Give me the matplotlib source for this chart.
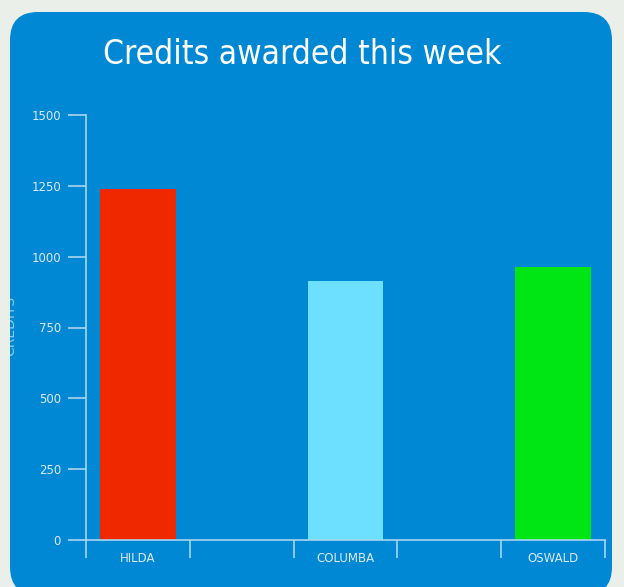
import numpy as np
import matplotlib
matplotlib.use("Agg")
import matplotlib.pyplot as plt
from matplotlib.patches import FancyBboxPatch, Rectangle

names = ["HILDA", "COLUMBA", "OSWALD"]
credits = [1240, 915, 965]
colors = ["#f02800", "#6ddfff", "#00e614"]
slots = [0, 2, 4]
yticks = [0, 250, 500, 750, 1000, 1250, 1500]

W, H = 624, 587
BG, PANEL, LINE = "#ebefe9", "#0088d4", "#a9d6f0"

fig = plt.figure(figsize=(W / 100, H / 100), dpi=100, facecolor=BG)
panel = FancyBboxPatch((10 / W, 1 - 595 / H), 602 / W, 583 / H,
                       boxstyle="round,pad=0,rounding_size=0.045",
                       transform=fig.transFigure, fc=PANEL, ec="none",
                       mutation_aspect=W / H, zorder=-5)
fig.patches.append(panel)

fig.text(302 / W, 1 - 55 / H, "Credits awarded this week", color="white",
         fontsize=24, ha="center", va="center", family="DejaVu Sans",
         stretch="condensed")

ax = fig.add_axes([86 / W, 1 - 540 / H, 519 / W, 425 / H])
ax.set_facecolor("none")
ax.bar(slots, credits, width=0.73, color=colors)
ax.set_xlim(-0.5, 4.5)
ax.set_ylim(0, 1500)
ax.set_yticks(yticks)
ax.set_xticks(slots)
ax.set_xticklabels(names)
ax.set_xticks(np.arange(-0.5, 4.6, 1), minor=True)
ax.tick_params(axis="x", which="major", length=0, pad=9, labelsize=8.5, labelcolor="#dde8f8")
ax.tick_params(axis="x", which="minor", length=13, width=1.2, color=LINE)
ax.tick_params(axis="y", length=13, width=1.2, color=LINE, labelsize=8.5, labelcolor="#dde8f8", pad=5)
for s in ["top", "right"]:
    ax.spines[s].set_visible(False)
for s in ["left", "bottom"]:
    ax.spines[s].set_color(LINE)
    ax.spines[s].set_linewidth(1.2)

# axis title sits half outside the panel, so only its right part shows
fig.text(10 / W, 1 - 326 / H, "CREDITS", color="#8fc8ec", fontsize=10,
         rotation=90, ha="center", va="center", zorder=1)
fig.patches.append(Rectangle((0, 1 - 380 / H), 10 / W, 110 / H,
                             transform=fig.transFigure, fc=BG, ec="none", zorder=2))

fig.savefig("out.png", dpi=100, facecolor=BG)
